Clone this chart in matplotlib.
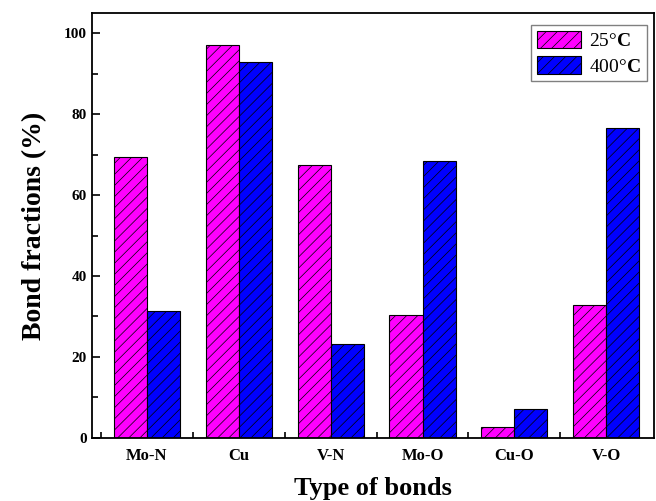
import numpy as np
import matplotlib
matplotlib.use('Agg')
import matplotlib.pyplot as plt

# data
bonds = ['Mo-N', 'Cu', 'V-N', 'Mo-O', 'Cu-O', 'V-O']
frac_25 = [69.3, 97.0, 67.4, 30.3, 2.8, 32.8]
frac_400 = [31.3, 92.8, 23.3, 68.4, 7.2, 76.5]

plt.rcParams['font.family'] = 'Liberation Serif'
plt.rcParams['font.weight'] = 'bold'
plt.rcParams['hatch.linewidth'] = 0.5
plt.rcParams['mathtext.fontset'] = 'custom'
plt.rcParams['mathtext.bf'] = 'Liberation Serif:bold'
plt.rcParams['mathtext.rm'] = 'Liberation Serif'

fig = plt.figure(figsize=(6.56, 5.01), dpi=100)
ax = fig.add_axes([0.140, 0.126, 0.857, 0.848])

x = np.arange(len(bonds))
w = 0.36
ax.bar(x - w / 2, frac_25, w, color='#ff00ff', edgecolor='black', linewidth=0.8,
       hatch='///', label='25\u00b0$\\mathbf{C}$')
ax.bar(x + w / 2, frac_400, w, color='#0000ff', edgecolor='black', linewidth=0.8,
       hatch='///', label='400\u00b0$\\mathbf{C}$')

ax.set_xlim(-0.6, 5.52)
ax.set_ylim(0, 105)
ax.set_xticks(x)
ax.set_xticklabels(bonds)
ax.set_xticks(x - 0.5, minor=True)
ax.set_yticks(np.arange(0, 101, 20))
ax.set_yticks(np.arange(10, 100, 20), minor=True)

ax.tick_params(axis='x', which='major', length=0, labelsize=12, pad=7)
ax.tick_params(axis='x', which='minor', direction='in', length=4, width=1.2)
ax.tick_params(axis='y', which='major', direction='in', length=6, width=1.2, labelsize=11)
ax.tick_params(axis='y', which='minor', direction='in', length=4, width=1.2)
for s in ax.spines.values():
    s.set_linewidth(1.3)

ax.set_xlabel('Type of bonds', fontsize=19, fontweight='bold', labelpad=10)
ax.set_ylabel('Bond fractions (%)', fontsize=20, fontweight='bold', labelpad=12)

leg = ax.legend(loc='upper right', bbox_to_anchor=(0.997, 0.985), fontsize=14,
                fancybox=False, edgecolor='gray', framealpha=1,
                handlelength=2.3, handleheight=1.0, borderpad=0.3,
                labelspacing=0.3, handletextpad=0.4, borderaxespad=0.3)
leg.get_frame().set_linewidth(1.0)
for t in leg.get_texts():
    t.set_fontweight('normal')

fig.savefig('out.png', dpi=100)
